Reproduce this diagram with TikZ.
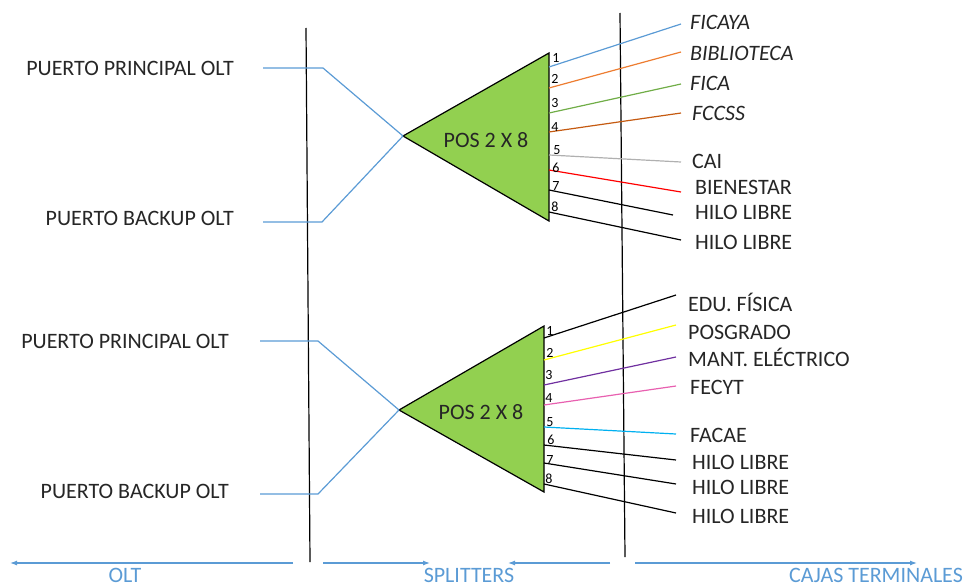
\documentclass[tikz,border=0pt]{standalone}
\usepackage{fontspec}
\setmainfont{Carlito}
\usetikzlibrary{arrows.meta}
\definecolor{obl}{HTML}{5B9BD5}
\definecolor{oor}{HTML}{ED7D31}
\definecolor{ogr}{HTML}{70AD47}
\definecolor{obr}{HTML}{C55A11}
\definecolor{ogy}{HTML}{B0B0B0}
\definecolor{ored}{HTML}{FF0000}
\definecolor{oyl}{HTML}{FFFF00}
\definecolor{opu}{HTML}{7030A0}
\definecolor{opk}{HTML}{E860B0}
\definecolor{ocy}{HTML}{00B0F0}
\definecolor{tri}{HTML}{92D050}
\definecolor{txt}{HTML}{262626}
\begin{document}
\begin{tikzpicture}[x=1pt,y=-1pt,
  lbl/.style={font=\fontsize{22}{24}\selectfont, text=txt, inner sep=0pt},
  ilbl/.style={font=\fontsize{22}{24}\selectfont\itshape, text=txt, inner sep=0pt},
  num/.style={font=\fontsize{14}{15}\selectfont, inner sep=0pt},
  blbl/.style={font=\fontsize{22}{24}\selectfont, text=obl, inner sep=0pt, anchor=base},
  fib/.style={line width=1.2pt},
  wall/.style={line width=1.2pt, black},
  splt/.style={draw=black, line width=1.2pt, fill=tri, line join=miter},
  barr/.style={line width=1.2pt, obl, -{Latex[length=7pt,width=5pt]}}]
\useasboundingbox (0,0) rectangle (968,586);

% vertical dividers
\coordinate (wa1) at (306,28); \coordinate (wa2) at (310,562);
\coordinate (wb1) at (620,13); \coordinate (wb2) at (625,557);
\draw[wall] (wa1) -- (wa2);
\draw[wall] (wb1) -- (wb2);

% ---------- upper splitter ----------
\coordinate (A1) at (403,136);
\coordinate (T1) at (549,53);
\coordinate (B1) at (549,221);
\draw[splt] (A1) -- (T1) -- (B1) -- cycle;
\node[lbl] (pos1) at (486,140) {POS 2 X 8};

\node[lbl, anchor=east] (pp1) at (234,68) {PUERTO PRINCIPAL OLT};
\node[lbl, anchor=east] (pb1) at (234,218) {PUERTO BACKUP OLT};
\coordinate (pp1s) at (263,68); \coordinate (pp1k) at (323,68);
\coordinate (pb1s) at (263,222); \coordinate (pb1k) at (322,222);
\draw[fib, obl] (pp1s) -- (pp1k) -- (A1);
\draw[fib, obl] (pb1s) -- (pb1k) -- (A1);

\foreach \n/\py/\ex/\ey/\c in {1/67/681/24/obl, 2/88/681/52/oor, 3/113/681/84/ogr, 4/132/681/113/obr,
  5/155/681/162/ogy, 6/170/681/192/ored, 7/190/673/215/black, 8/212/681/240/black}{
  \coordinate (up\n) at (549,\py);
  \coordinate (ue\n) at (\ex,\ey);
  \draw[fib, \c] (up\n) -- (ue\n);
}
\foreach \n/\x/\y in {1/556/58, 2/555/79, 3/555/103, 4/555/127, 5/557/150, 6/556/168, 7/556/186, 8/555/207}{
  \node[num] (un\n) at (\x,\y) {\n};
}
\node[ilbl, anchor=west] (r1) at (690,22) {FICAYA};
\node[ilbl, anchor=west] (r2) at (690,53) {BIBLIOTECA};
\node[ilbl, anchor=west] (r3) at (690,83) {FICA};
\node[ilbl, anchor=west] (r4) at (692,113) {FCCSS};
\node[lbl, anchor=west] (r5) at (692,161) {CAI};
\node[lbl, anchor=west] (r6) at (695,187) {BIENESTAR};
\node[lbl, anchor=west] (r7) at (695,212) {HILO LIBRE};
\node[lbl, anchor=west] (r8) at (695,242) {HILO LIBRE};

% ---------- lower splitter ----------
\coordinate (A2) at (399,410);
\coordinate (T2) at (544,326);
\coordinate (B2) at (544,492);
\draw[splt] (A2) -- (T2) -- (B2) -- cycle;
\node[lbl] (pos2) at (481,412) {POS 2 X 8};

\node[lbl, anchor=east] (pp2) at (229,341) {PUERTO PRINCIPAL OLT};
\node[lbl, anchor=east] (pb2) at (229,491) {PUERTO BACKUP OLT};
\coordinate (pp2s) at (260,341); \coordinate (pp2k) at (318,341);
\coordinate (pb2s) at (260,494); \coordinate (pb2k) at (318,494);
\draw[fib, obl] (pp2s) -- (pp2k) -- (A2);
\draw[fib, obl] (pb2s) -- (pb2k) -- (A2);

\foreach \n/\py/\ey/\c in {1/338/295/black, 2/360/325/oyl, 3/385/357/opu, 4/405/386/opk,
  5/427/434/ocy, 6/445/460/black, 7/463/484/black, 8/484/513/black}{
  \coordinate (lp\n) at (544,\py);
  \coordinate (le\n) at (676,\ey);
  \draw[fib, \c] (lp\n) -- (le\n);
}
\foreach \n/\x/\y in {1/550/331, 2/550/353, 3/549/375, 4/549/398, 5/550/422, 6/551/440, 7/550/460, 8/549/479}{
  \node[num] (ln\n) at (\x,\y) {\n};
}
\node[lbl, anchor=west] (s1) at (688,302) {EDU. FÍSICA};
\node[lbl, anchor=west] (s2) at (688,332) {POSGRADO};
\node[lbl, anchor=west] (s3) at (688,357) {MANT. ELÉCTRICO};
\node[lbl, anchor=west] (s4) at (690,387) {FECYT};
\node[lbl, anchor=west] (s5) at (690,435) {FACAE};
\node[lbl, anchor=west] (s6) at (692,462) {HILO LIBRE};
\node[lbl, anchor=west] (s7) at (692,487) {HILO LIBRE};
\node[lbl, anchor=west] (s8) at (692,516) {HILO LIBRE};

% ---------- bottom zone arrows ----------
\coordinate (o1) at (293,563); \coordinate (o2) at (10,563);
\coordinate (sa1) at (323,563); \coordinate (sa2) at (430,563);
\coordinate (sb1) at (610,563); \coordinate (sb2) at (508,563);
\coordinate (c1) at (635,563); \coordinate (c2) at (917,563);
\draw[barr] (o1) -- (o2);
\draw[barr] (sa1) -- (sa2);
\draw[barr] (sb1) -- (sb2);
\draw[barr] (c1) -- (c2);
\node[blbl] (zolt) at (125,582) {OLT};
\node[blbl] (zspl) at (469,582) {SPLITTERS};
\node[blbl] (zcaj) at (876,582) {CAJAS TERMINALES};
\end{tikzpicture}
\end{document}
